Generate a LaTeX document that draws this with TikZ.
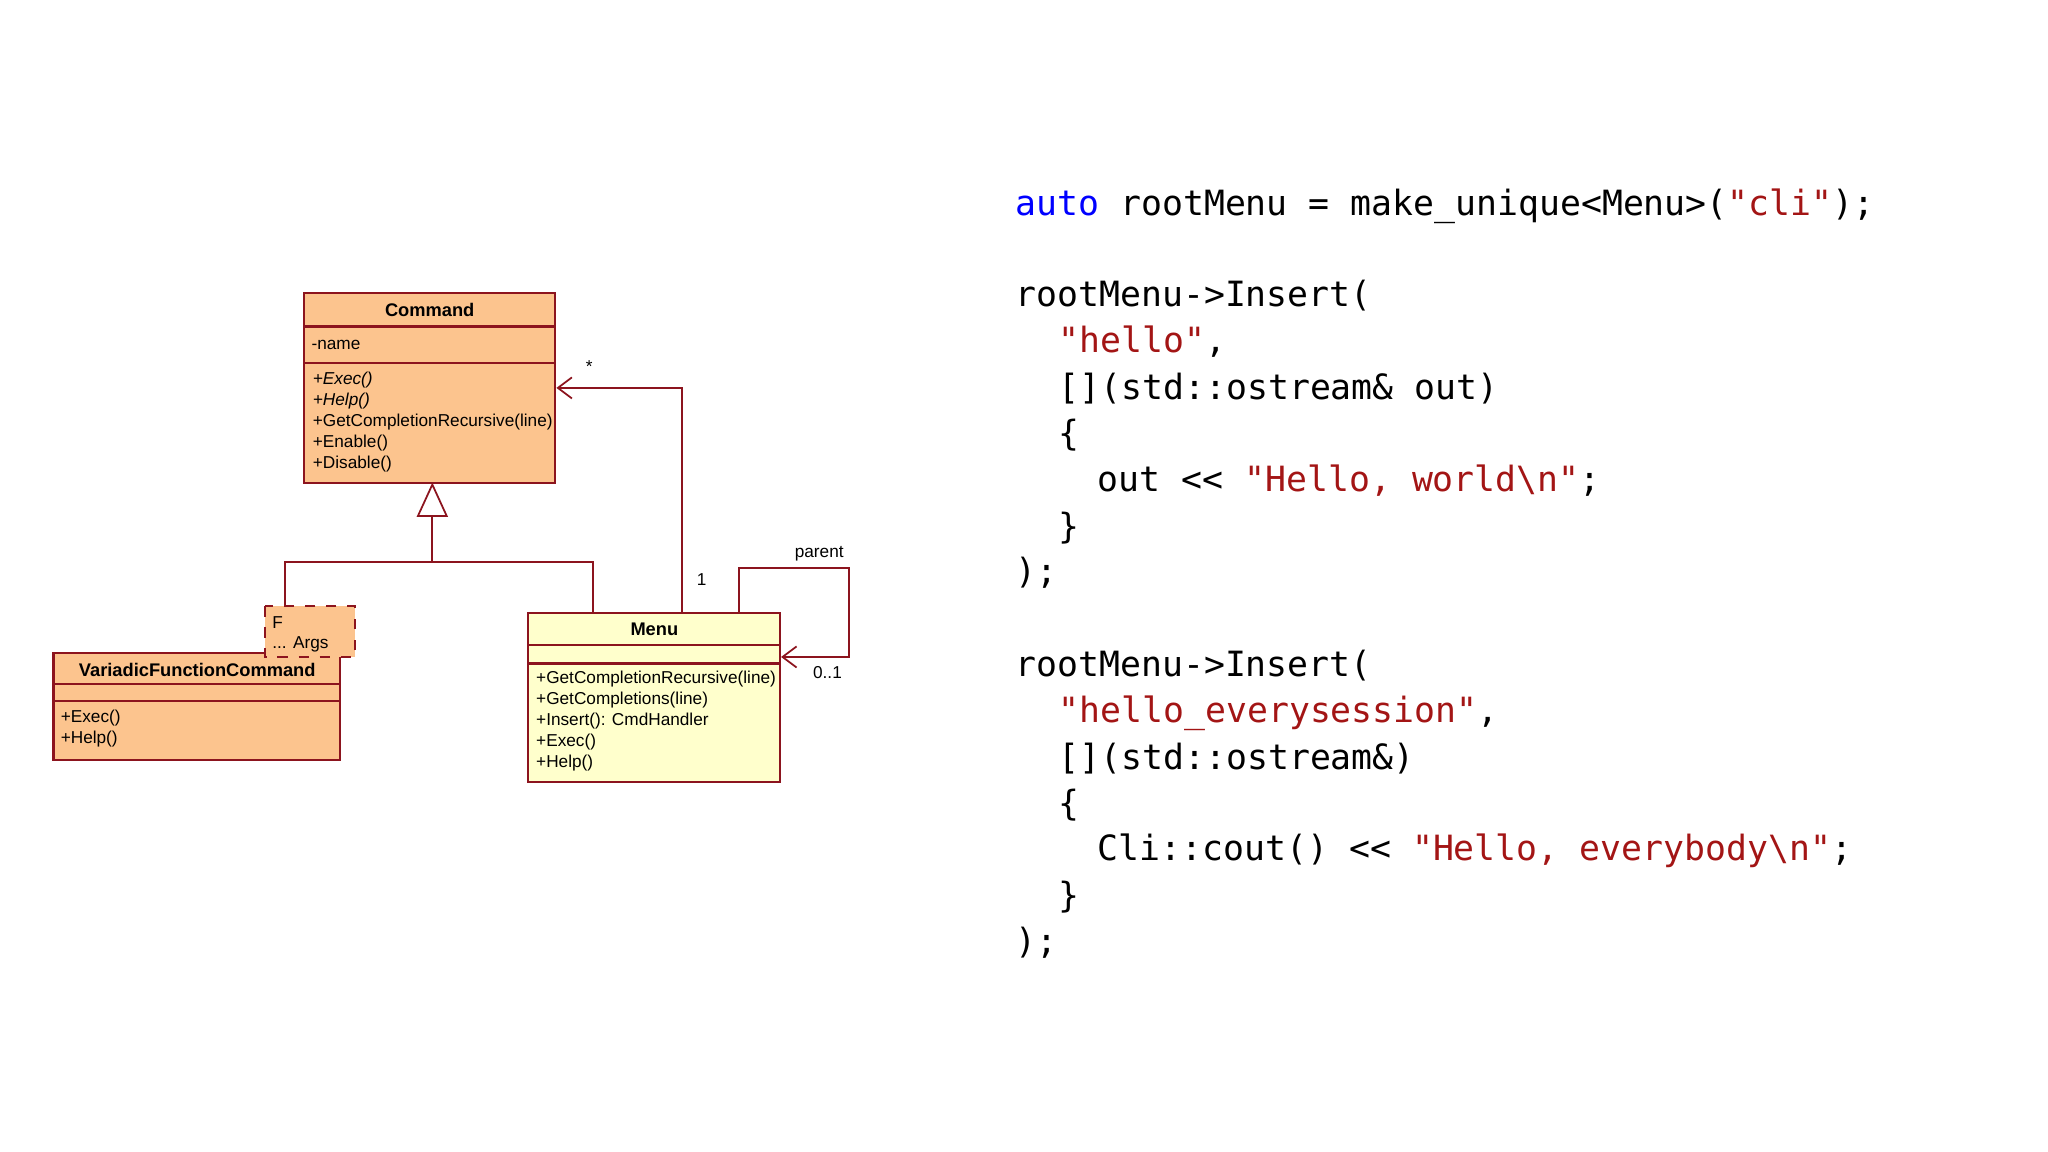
\documentclass[tikz,border=0pt]{standalone}
\usepackage{fontspec}
\setmainfont{Liberation Sans}
\newfontfamily\codefont{DejaVu Sans Mono}
\usetikzlibrary{arrows.meta}
\definecolor{umlline}{RGB}{140,20,30}
\definecolor{orangefill}{RGB}{252,196,142}
\definecolor{yellowfill}{RGB}{255,255,204}
\definecolor{kw}{RGB}{0,0,255}
\definecolor{str}{RGB}{163,21,21}
\tikzset{
  umlbox/.style={draw=umlline, line width=0.6pt},
  conn/.style={draw=umlline, line width=0.5pt},
  utxt/.style={anchor=west, inner sep=0pt, font=\fontsize{4.9}{5.9}\selectfont},
  uhead/.style={anchor=center, inner sep=0pt, font=\fontsize{5.2}{6}\selectfont\bfseries},
  code/.style={anchor=base west, inner sep=0pt, font=\codefont\fontsize{9.9}{12}\selectfont},
  openarrow/.style={-{Straight Barb[length=4pt,width=6pt]}}
}
\begin{document}
\begin{tikzpicture}[x=0.013061cm,y=-0.013061cm]
\useasboundingbox (0,0) rectangle (1568,882);
% Command
\draw[umlbox,fill=orangefill] (233,224) rectangle (425,370);
\draw[umlbox] (233,250) -- (425,250) (233,278) -- (425,278);
\node[uhead] (cmdh) at (329,237) {Command};
\node[utxt] at (238,264) {-name};
\node[utxt] at (239,291) {\itshape +Exec()};
\node[utxt] at (239,307) {\itshape +Help()};
\node[utxt] at (239,323) {+GetCompletionRecursive(line)};
\node[utxt] at (239,339) {+Enable()};
\node[utxt] at (239,355) {+Disable()};
\coordinate (cmdtri) at (331,371);
\coordinate (cmdarr) at (426,297);
% Variadic
\draw[umlbox,fill=orangefill] (41,500) rectangle (260,582);
\draw[umlbox] (41,524) -- (260,524) (41,537) -- (260,537);
\node[uhead] (vh) at (151,513) {VariadicFunctionCommand};
\node[utxt] at (46,550) {+Exec()};
\node[utxt] at (46,566) {+Help()};
% template
\draw[umlbox,dashed,fill=orangefill] (203,464) rectangle (272,503);
\node[utxt] at (208,477) {F};
\node[utxt] at (208,493) {... Args};
% Menu
\draw[umlbox,fill=yellowfill] (404,469) rectangle (597,599);
\draw[umlbox] (404,494) -- (597,494) (404,508) -- (597,508);
\node[uhead] (mh) at (501,482) {Menu};
\node[utxt] at (410,520) {+GetCompletionRecursive(line)};
\node[utxt] at (410,536) {+GetCompletions(line)};
\node[utxt] at (410,552) {+Insert(): CmdHandler};
\node[utxt] at (410,568) {+Exec()};
\node[utxt] at (410,584) {+Help()};
% generalization
\draw[conn,fill=white] (331,371) -- (342,395) -- (320,395) -- cycle;
\draw[conn] (331,395) -- (331,430) (218,464) -- (218,430) -- (454,430) -- (454,469);
% association
\draw[conn,openarrow] (522,469) -- (522,297) -- (cmdarr);
\node[utxt] at (448,281) {*};
\node[utxt] at (533,444) {1};
\draw[conn,openarrow] (566,469) -- (566,435) -- (650,435) -- (650,503) -- (598,503);
\node[utxt] at (608,424) {parent};
\node[utxt] at (622,515) {0..1};
% code
\node[code] at (777,165) {\textcolor{kw}{auto} rootMenu = make\_unique<Menu>(\textcolor{str}{"cli"});};
\node[code] at (777,235) {rootMenu->Insert(};
\node[code] at (810,270) {\textcolor{str}{"hello"},};
\node[code] at (810,306) {[](std::ostream\& out)};
\node[code] at (810,341) {\{};
\node[code] at (840,376) {out << \textcolor{str}{"Hello, world\textbackslash n"};};
\node[code] at (810,412) {\}};
\node[code] at (777,447) {);};
\node[code] at (777,518) {rootMenu->Insert(};
\node[code] at (810,553) {\textcolor{str}{"hello\_everysession"},};
\node[code] at (810,589) {[](std::ostream\&)};
\node[code] at (810,624) {\{};
\node[code] at (840,659) {Cli::cout() << \textcolor{str}{"Hello, everybody\textbackslash n"};};
\node[code] at (810,695) {\}};
\node[code] at (777,730) {);};
\end{tikzpicture}
\end{document}
